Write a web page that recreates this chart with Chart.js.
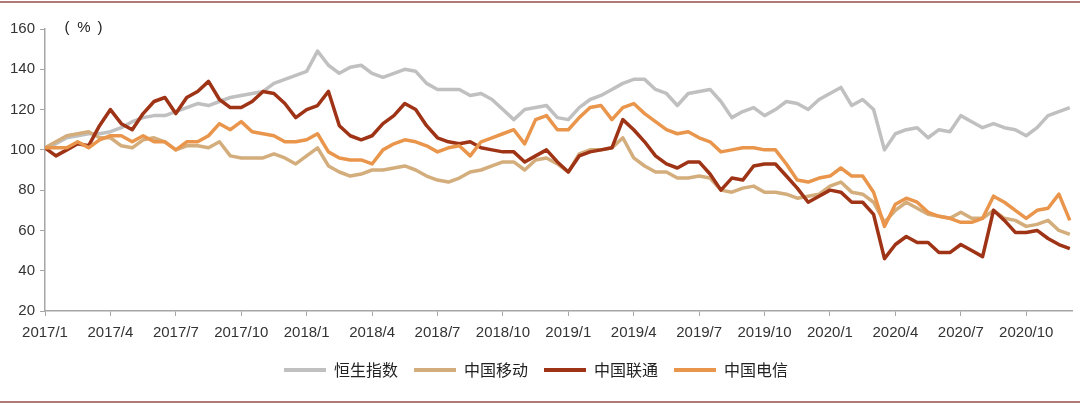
<html><head>
<script src="https://cdn.jsdelivr.net/npm/chart.js"></script>
<title>恒生指数与三大运营商股价走势</title>
<style>
body {
  margin: 0;
  background: #fff;
}
#wrap {
  position: relative;
  width: 1080px;
  height: 405px;
}
.rule {
  position: absolute;
  left: 0;
  width: 1080px;
  height: 2px;
  background: #B07A78;
}
</style>
</head>
<body>
<div id="wrap">
  <div class="rule" style="top:1px"></div>
  <canvas id="chart" width="1080" height="405"></canvas>
  <div class="rule" style="top:401px"></div>
</div>

<script>
// semi-monthly readings, 2017/1 .. 2020/12, base = 100
const hsi = [100,103,106,107,108,108,109,111,114,116,
  117,117,119,121,123,122,124,126,127,128,
  129,133,135,137,139,149,142,138,141,142,
  138,136,138,140,139,133,130,130,130,127,
  128,125,120,115,120,121,122,116,115,121,
  125,127,130,133,135,135,130,128,122,128,
  129,130,124,116,119,121,117,120,124,123,
  120,125,128,131,122,125,120,100,108,110,
  111,106,110,109,117,114,111,113,111,110,
  107,111,117,119,121];
const chinaMobile = [101,104,107,108,109,106,106,102,101,105,
  106,104,100,102,102,101,104,97,96,96,
  96,98,96,93,97,101,92,89,87,88,
  90,90,91,92,90,87,85,84,86,89,
  90,92,94,94,90,95,96,93,89,98,
  100,100,101,106,96,92,89,89,86,86,
  87,86,80,79,81,82,79,79,78,76,
  77,78,82,84,79,78,74,64,70,74,
  71,68,67,66,69,66,66,70,66,65,
  62,63,65,60,58];
const chinaUnicom = [101,97,100,103,102,112,120,113,110,118,
  124,126,118,126,129,134,125,121,121,124,
  129,128,123,116,120,122,129,112,107,105,
  107,113,117,123,120,112,106,104,103,104,
  101,100,99,99,94,97,100,94,89,97,
  99,100,101,115,110,104,97,93,91,94,
  94,88,80,86,85,92,93,93,87,81,
  74,77,80,79,74,74,68,46,53,57,
  54,54,49,49,53,50,47,70,65,59,
  59,60,56,53,51];
const chinaTelecom = [101,101,101,104,101,105,107,107,104,107,
  104,104,100,104,104,107,113,110,114,109,
  108,107,104,104,105,108,99,96,95,95,
  93,100,103,105,104,102,99,101,102,97,
  104,106,108,110,103,115,117,110,110,116,
  121,122,115,121,123,118,114,110,108,109,
  106,104,99,100,101,101,100,100,93,85,
  84,86,87,91,87,87,79,62,73,76,
  74,69,67,66,64,64,66,77,74,70,
  66,70,71,78,65];

const seriesNames = ['恒生指数', '中国移动', '中国联通', '中国电信'];
const seriesColors = ['#C0C0C0', '#D4AD7C', '#9E3316', '#E9964C'];
const seriesValues = [hsi, chinaMobile, chinaUnicom, chinaTelecom];

// x axis in months since 2017/1
const quarterTicks = [0, 3, 6, 9, 12, 15, 18, 21, 24, 27, 30, 33, 36, 39, 42, 45];
const quarterLabels = ['2017/1', '2017/4', '2017/7', '2017/10', '2018/1', '2018/4', '2018/7', '2018/10',
  '2019/1', '2019/4', '2019/7', '2019/10', '2020/1', '2020/4', '2020/7', '2020/10'];
const yTicks = [20, 40, 60, 80, 100, 120, 140, 160];

const sampleMonths = hsi.map((_, i) => i / 2);
const axisColor = '#A6A6A6';

// "（ % ）" unit label, drawn piece by piece to get the wide spacing
const unitLabel = {
  id: 'unitLabel',
  afterDraw(chart) {
    const c = chart.ctx;
    const x0 = chart.chartArea.left;
    const y = chart.chartArea.top - 1;
    c.save();
    c.font = '15px "Liberation Sans", Arial';
    c.fillStyle = '#222';
    c.textBaseline = 'middle';
    c.textAlign = 'center';
    c.fillText('(', x0 + 22, y);
    c.fillText('%', x0 + 39, y);
    c.fillText(')', x0 + 55, y);
    c.restore();
  }
};

const chart = new Chart(document.getElementById('chart').getContext('2d'), {
  type: 'line',
  data: {
    datasets: seriesValues.map((vals, k) => ({
      label: seriesNames[k],
      data: vals.map((v, i) => ({x: sampleMonths[i], y: v})),
      borderColor: seriesColors[k],
      backgroundColor: seriesColors[k],
      borderWidth: 3.5,
      pointRadius: 0,
      tension: 0,
      borderJoinStyle: 'round',
      order: 4 - k
    }))
  },
  options: {
    responsive: false,
    animation: false,
    layout: {padding: {top: 29, right: 8, left: 0, bottom: 17}},
    plugins: {
      tooltip: {enabled: false},
      legend: {
        position: 'bottom',
        labels: {
          boxWidth: 42,
          boxHeight: 4,
          padding: 16,
          color: '#222',
          font: {size: 16, family: '"Noto Sans CJK SC"'},
          generateLabels: chart => chart.data.datasets.map((ds, i) => ({
            text: ds.label,
            fillStyle: ds.borderColor,
            strokeStyle: ds.borderColor,
            lineWidth: 0,
            hidden: false,
            datasetIndex: i,
            fontColor: '#222'
          }))
        }
      }
    },
    scales: {
      x: {
        type: 'linear',
        min: 0,
        max: 47.1,
        afterBuildTicks: s => { s.ticks = quarterTicks.map(v => ({value: v})); },
        afterFit: s => { s.height = 35; },
        border: {color: axisColor, width: 1.5},
        grid: {drawOnChartArea: false, color: axisColor, tickLength: 5},
        ticks: {
          maxRotation: 0,
          autoSkip: false,
          padding: 8,
          color: '#333',
          font: {size: 15, family: '"Liberation Sans", Arial'},
          callback: v => quarterLabels[quarterTicks.indexOf(v)]
        }
      },
      y: {
        min: 20,
        max: 160,
        afterBuildTicks: s => { s.ticks = yTicks.map(v => ({value: v})); },
        afterFit: s => { s.width = 45; },
        border: {color: axisColor, width: 1.5},
        grid: {drawOnChartArea: false, color: axisColor, tickLength: 5},
        ticks: {
          padding: 5,
          color: '#333',
          font: {size: 15, family: '"Liberation Sans", Arial'}
        }
      }
    }
  },
  plugins: [unitLabel]
});
</script>
</body></html>
